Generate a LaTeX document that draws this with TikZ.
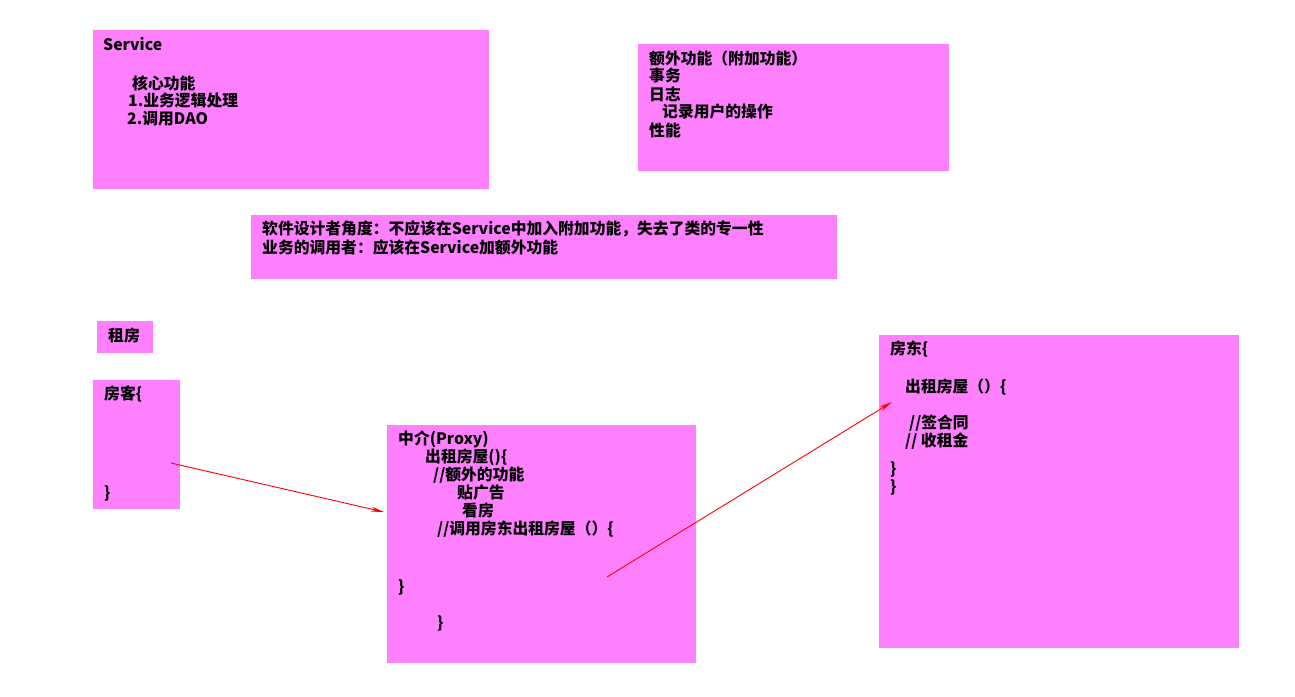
\documentclass[tikz,border=0pt]{standalone}
\usepackage{fontspec}
\setmainfont{Noto Sans CJK SC}
\usetikzlibrary{arrows.meta}
\definecolor{boxpink}{HTML}{FF80FF}
\definecolor{arrred}{HTML}{FF0000}
\tikzset{
  pbox/.style={fill=boxpink, draw=none},
  txt/.style={anchor=west, inner sep=0pt, font=\fontsize{15.8}{18}\selectfont\bfseries, text=black},
  redarrow/.style={draw=arrred, line width=0.9pt, -{Stealth[length=13pt,width=5pt]}}
}
\begin{document}
\begin{tikzpicture}[x=1pt,y=-1pt]
\useasboundingbox (0,0) rectangle (1295,696);
% boxes
\path[pbox] (93,30) rectangle (489,189);
\path[pbox] (638,44) rectangle (949,171);
\path[pbox] (251,215) rectangle (837,279);
\path[pbox] (97,321) rectangle (153,353);
\path[pbox] (93,380) rectangle (180,509);
\path[pbox] (387,425) rectangle (696,663);
\path[pbox] (879,335) rectangle (1239,648);
% Service
\node[txt] (s1) at (103,44) {Service};
\node[txt] (s2) at (132,83) {核心功能};
\node[txt] (s3) at (128,101) {1.业务逻辑处理};
\node[txt] (s4) at (127,119) {2.调用DAO};
% extra
\node[txt] (e1) at (649,58) {额外功能（附加功能）};
\node[txt] (e2) at (649,76) {事务};
\node[txt] (e3) at (649,94) {日志};
\node[txt] (e4) at (662,112) {记录用户的操作};
\node[txt] (e5) at (649,130) {性能};
% designer
\node[txt] (d1) at (262,229) {软件设计者角度：不应该在Service中加入附加功能，失去了类的专一性};
\node[txt] (d2) at (262,247) {业务的调用者：应该在Service加额外功能};
% rent
\node[txt] (r1) at (108,336) {租房};
\node[txt] (k1) at (104,394) {房客\{};
\node[txt] (k2) at (104,493) {\}};
% proxy
\node[txt] (p1) at (398,439) {中介(Proxy)};
\node[txt] (p2) at (425,457) {出租房屋()\{};
\node[txt] (p3) at (433,475) {//额外的功能};
\node[txt] (p4) at (457,493) {贴广告};
\node[txt] (p5) at (462,511) {看房};
\node[txt] (p6) at (437,529) {//调用房东出租房屋（）\{};
\node[txt] (p7) at (398,587) {\}};
\node[txt] (p8) at (437,623) {\}};
% landlord
\node[txt] (l1) at (890,349) {房东\{};
\node[txt] (l2) at (905,387) {出租房屋（）\{};
\node[txt] (l3) at (909,423) {//签合同};
\node[txt] (l4) at (905,441) {// 收租金};
\node[txt] (l5) at (890,469) {\}};
\node[txt] (l6) at (890,487) {\}};
% arrows
\coordinate (a1s) at (171,463);
\coordinate (a1e) at (384,512);
\coordinate (a2s) at (607,577);
\coordinate (a2e) at (892,402);
\draw[redarrow] (a1s) -- (a1e);
\draw[redarrow] (a2s) -- (a2e);
\end{tikzpicture}
\end{document}
